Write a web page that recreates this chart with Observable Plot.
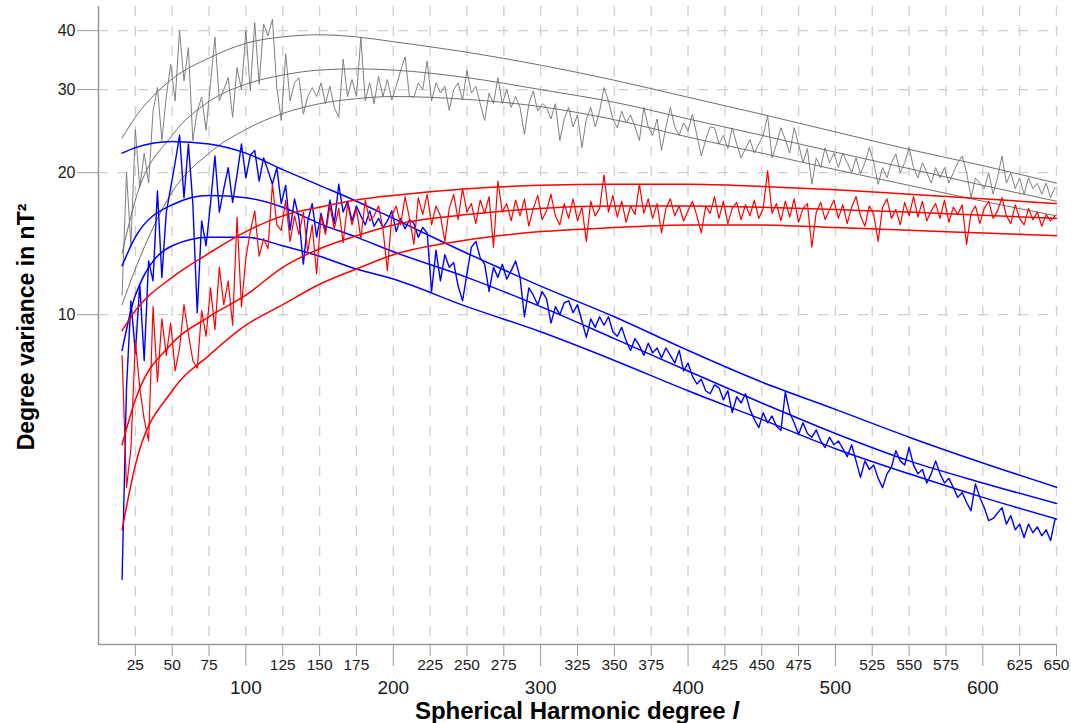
<!DOCTYPE html>
<html>
<head>
<meta charset="utf-8">
<script src="https://cdn.jsdelivr.net/npm/d3@7"></script>
<script src="https://cdn.jsdelivr.net/npm/@observablehq/plot@0.6"></script>
<style>
  html, body { margin: 0; padding: 0; background: #fff; }
  #chart { width: 1071px; height: 723px; }
</style>
</head>
<body>
<div id="chart"></div>
<script>
// ---------- data ----------
// spherical harmonic degrees of the observed (noisy) spectra: 16, 19, ..., 649
const degreeStart = 16, degreeStep = 3;

const grayObserved = [
  11, 20, 14, 24.7, 18.6, 22, 19, 27, 30.3, 23.4,
  29, 33.9, 28.4, 40, 31.3, 36.8, 23.4, 27, 28.9, 24.6,
  31, 38.7, 28.4, 30, 31.8, 26.2, 33.4, 30, 40, 29.8,
  41.6, 30.8, 41.3, 39, 42.3, 30.3, 25.8, 35.7, 28.4, 31,
  31.8, 26.6, 29, 30.3, 29, 31, 28, 30.5, 27.5, 26.2,
  34.8, 29, 31.5, 29, 38.7, 28.4, 31, 28, 32, 29,
  31.5, 28.5, 30.5, 32.9, 35.2, 29, 28.9, 31, 30, 34.5,
  28.4, 31, 29.5, 30.5, 27.1, 30, 31, 28.5, 32.9, 29.5,
  30.5, 28, 25.8, 29.5, 28, 31.8, 28, 30, 27.5, 29,
  27.5, 24.1, 28, 29.8, 27, 28, 27.5, 26, 28, 23.4,
  26, 27.5, 25, 26.5, 22.6, 26, 27.5, 25, 27, 30.3,
  28.4, 26, 24.9, 27, 25.5, 26.5, 25, 23.4, 27.5, 25,
  24, 26, 22.3, 25, 27.5, 25, 24, 25.5, 24.5, 26.6,
  24, 21.7, 23.5, 25, 24.9, 23, 24, 22.5, 24.9, 23,
  21.5, 22.5, 23.5, 22, 23, 24, 26.4, 21.5, 23, 24.9,
  23.5, 22, 24.9, 23, 21, 22.5, 18.9, 21.5, 20.5, 22.6,
  21, 22, 20.5, 22, 21, 20, 21.5, 19.9, 21, 22.6,
  21, 18.9, 20.5, 19.5, 21, 21.9, 20, 21, 22.6, 20.5,
  19.5, 21, 20, 19, 20.5, 19.5, 20.5, 19, 20, 21,
  21.7, 20, 17.7, 19.5, 19, 18.5, 20, 18, 19.5, 21.7,
  19, 20, 18.5, 19.5, 18, 19.5, 18.5, 19, 18, 19,
  17.7, 18.6
];

const redObserved = [
  8.2, 4.3, 5.2, 8.8, 7.0, 6.0, 5.4, 10.4, 7.2, 9.8,
  8.2, 9.6, 7.6, 8.5, 10.5, 9.1, 8.0, 7.7, 10.2, 9.0,
  11.4, 9.3, 12.6, 10.5, 11.8, 9.5, 16.1, 10.4, 13.2, 15.0,
  16.6, 13.3, 14.5, 13.8, 18.9, 15.5, 15.1, 17.5, 14.3, 16.2,
  14.8, 16.5, 13.6, 15.5, 12.2, 16.2, 14.8, 17.0, 15.2, 16.8,
  14.2, 17.2, 15.5, 16.8, 14.5, 17.5, 15.8, 16.2, 17.0, 15.2,
  12.4, 16.2, 17.0, 15.5, 17.8, 16.0, 14.1, 17.7, 16.3, 18.0,
  15.5, 17.0, 16.2, 14.3, 16.8, 18.0, 15.9, 18.5, 16.5, 17.2,
  15.6, 17.5, 16.4, 17.8, 13.9, 19.2, 16.5, 17.2, 15.8, 17.5,
  16.2, 17.6, 15.4, 16.8, 17.9, 15.9, 16.6, 18.0, 16.2, 15.5,
  17.2, 16.0, 17.6, 15.8, 16.9, 14.3, 17.4, 16.2, 16.8, 19.8,
  16.5, 17.9, 16.1, 17.4, 15.7, 17.0, 16.3, 18.9, 16.4, 17.6,
  16.0, 17.2, 14.9, 16.8, 17.6, 16.2, 17.0, 15.8, 16.6, 17.4,
  16.2, 14.9, 17.0, 16.4, 17.8, 16.0, 17.4, 15.6, 16.8, 17.3,
  15.9, 17.1, 16.2, 17.5, 16.0, 16.8, 20.2, 16.4, 17.2, 15.8,
  17.4, 16.1, 17.6, 15.7, 16.8, 17.2, 13.9, 16.5, 17.3, 15.9,
  16.7, 17.5, 16.0, 17.1, 15.6, 16.9, 17.8, 16.2, 15.4, 17.0,
  16.3, 14.3, 16.9, 17.6, 16.0, 16.7, 15.5, 17.3, 16.2, 17.8,
  16.1, 17.4, 15.8, 16.6, 17.2, 16.0, 17.5, 15.7, 16.9, 16.3,
  17.1, 14.1, 16.4, 17.0, 15.6, 16.8, 17.4, 16.0, 16.6, 17.7,
  16.2, 15.6, 17.1, 16.0, 15.5, 16.8, 15.9, 16.5, 15.4, 16.3,
  15.8, 16.2
];

const blueObserved = [
  2.75, 7.0, 10.7, 8.3, 11.6, 8.0, 13.0, 11.8, 18.3, 12.0,
  16.5, 18.6, 21.0, 24.0, 17.7, 23.0, 17.2, 10.1, 15.8, 14.0,
  17.2, 21.7, 16.5, 18.5, 20.5, 17.3, 19.8, 23.0, 19.5, 21.8,
  22.3, 19.2, 21.5, 20.2, 18.9, 20.5, 17.2, 18.8, 15.1, 17.6,
  16.0, 12.8, 15.8, 17.2, 14.6, 16.4, 15.0, 17.5, 15.6, 18.9,
  16.5, 17.4, 15.8, 17.0, 16.2, 15.5, 16.6, 15.4, 16.0, 15.3,
  15.8, 16.6, 15.0, 16.0, 15.2, 15.9, 15.6, 14.6, 15.3, 14.9,
  11.2, 13.7, 11.8, 13.4, 12.6, 12.9, 11.5, 10.7, 12.2, 13.9,
  14.3, 13.2, 12.8, 11.2, 12.6, 12.0, 12.8, 11.9, 12.4, 13.0,
  12.0, 9.9, 11.4, 11.0, 10.5, 11.2, 10.8, 9.6, 10.4, 10.0,
  10.6, 10.7, 10.1, 10.5, 9.7, 8.95, 9.8, 9.4, 9.9, 9.5,
  9.9, 9.2, 9.0, 9.4, 8.8, 8.4, 8.9, 8.6, 8.2, 8.7,
  8.3, 8.5, 8.1, 8.5, 8.2, 7.9, 8.4, 7.6, 7.9, 7.4,
  7.13, 7.3, 6.9, 6.8, 7.1, 7.0, 6.6, 6.9, 6.2, 6.7,
  6.5, 6.8, 6.3, 6.0, 5.76, 6.2, 5.9, 6.1, 5.8, 5.68,
  6.85, 6.2, 5.9, 5.57, 5.9, 5.6, 5.5, 5.7, 5.4, 5.23,
  5.5, 5.3, 5.4, 5.2, 5.0, 5.3, 4.9, 4.52, 4.9, 4.7,
  4.8, 4.5, 4.3, 4.6, 4.75, 5.15, 4.9, 4.8, 5.23, 4.8,
  4.6, 4.7, 4.4, 4.6, 4.9, 4.6, 4.4, 4.5, 4.3, 4.1,
  4.2, 4.0, 3.84, 4.38, 4.1, 3.9, 3.66, 3.7, 3.8, 3.9,
  3.6, 3.75, 3.5, 3.6, 3.37, 3.6, 3.45, 3.55, 3.4, 3.5,
  3.32, 3.69
];

// model curves, sampled at these degrees
const modelDegrees = [16, 25, 50, 75, 100, 125, 150, 175, 200, 250, 300, 350, 400, 450, 500, 550, 600, 650];
const grayUpper  = [23.7, 26.2, 31.6, 35.0, 37.6, 38.8, 39.2, 38.8, 37.9, 36.0, 33.8, 31.4, 28.9, 26.6, 24.4, 22.4, 20.7, 19.0];
const grayMiddle = [13.5, 17.5, 24.0, 28.3, 30.8, 32.2, 33.0, 33.2, 33.0, 31.8, 30.0, 28.2, 26.0, 24.0, 22.1, 20.4, 18.8, 17.4];
const grayLower  = [10.5, 12.5, 18.2, 22.0, 24.7, 26.7, 28.0, 28.7, 29.0, 28.6, 27.6, 25.9, 23.8, 22.0, 20.3, 18.8, 17.4, 16.2];
const blueUpper  = [22.0, 22.6, 23.3, 23.0, 22.0, 20.3, 18.8, 17.4, 16.0, 13.5, 11.5, 9.9, 8.4, 7.2, 6.3, 5.5, 4.85, 4.31];
const blueMiddle = [12.7, 14.6, 17.1, 17.9, 17.7, 16.9, 15.6, 14.6, 13.6, 12.0, 10.4, 8.9, 7.6, 6.5, 5.6, 4.9, 4.4, 3.98];
const blueLower  = [8.4, 11.0, 14.0, 14.6, 14.6, 14.0, 13.3, 12.5, 11.9, 10.4, 9.2, 8.0, 6.9, 6.0, 5.2, 4.6, 4.1, 3.69];
const redUpper   = [9.25, 10.2, 12.0, 13.5, 15.0, 16.2, 16.9, 17.5, 17.9, 18.5, 18.8, 18.9, 18.9, 18.7, 18.4, 18.0, 17.6, 17.2];
const redMiddle  = [5.3, 6.6, 8.7, 9.9, 11.0, 12.6, 13.8, 14.7, 15.5, 16.3, 16.8, 17.0, 17.0, 16.9, 16.7, 16.5, 16.25, 16.0];
const redLower   = [3.5, 4.8, 6.9, 8.2, 9.5, 10.5, 11.6, 12.5, 13.4, 14.4, 15.0, 15.3, 15.5, 15.5, 15.3, 15.1, 14.9, 14.7];

// axis ticks
const xMinorTicks = [25, 50, 75, 125, 150, 175, 225, 250, 275, 325, 350, 375, 425, 450, 475, 525, 550, 575, 625, 650];
const xMajorTicks = [100, 200, 300, 400, 500, 600];
const yTicks = [10, 20, 30, 40];

// ---------- build rows ----------
const observed = (vals) => vals.map((v, i) => ({l: degreeStart + degreeStep * i, v}));
const model = (vals) => vals.map((v, i) => ({l: modelDegrees[i], v}));

const COLORS = {gray: "#808080", grayModel: "#6e6e6e", blue: "#0000ff", red: "#ff0000"};
const smooth = {x: "l", y: "v", curve: "monotone-x"};

const chart = Plot.plot({
  width: 1071,
  height: 723,
  marginLeft: 98,
  marginRight: 15,
  marginTop: 6,
  marginBottom: 79,
  x: {domain: [0, 650]},
  y: {type: "log", domain: [2, 45]},
  style: {fontFamily: "'Liberation Sans', Arial, sans-serif", background: "#fff", color: "#1a1a1a"},
  marks: [
    Plot.gridX(xMinorTicks.concat(xMajorTicks), {stroke: "#cfcfcf", strokeOpacity: 1, strokeWidth: 1.3, strokeDasharray: "10,10"}),
    Plot.gridY(yTicks, {stroke: "#cfcfcf", strokeOpacity: 1, strokeWidth: 1.3, strokeDasharray: "10,10"}),
    Plot.ruleX([0], {stroke: "#9a9a9a", strokeWidth: 1.5}),
    Plot.ruleY([2], {stroke: "#9a9a9a", strokeWidth: 1.5}),
    Plot.axisY(yTicks, {tickSize: 21, tickPadding: 2, fontSize: 16, stroke: "#9a9a9a", tickFormat: d => String(d), label: null}),
    Plot.axisX(xMinorTicks, {tickSize: 12, tickPadding: 2, fontSize: 15.5, stroke: "#9a9a9a", tickFormat: d => String(d), label: null}),
    Plot.axisX(xMajorTicks, {tickSize: 22, tickPadding: 14, fontSize: 19, stroke: "#9a9a9a", tickFormat: d => String(d), label: null}),

    // gray: observed + models
    Plot.line(observed(grayObserved), {x: "l", y: "v", stroke: COLORS.gray, strokeWidth: 1}),
    Plot.line(model(grayUpper), {...smooth, stroke: COLORS.grayModel, strokeWidth: 1}),
    Plot.line(model(grayMiddle), {...smooth, stroke: COLORS.grayModel, strokeWidth: 1}),
    Plot.line(model(grayLower), {...smooth, stroke: COLORS.grayModel, strokeWidth: 1}),

    // blue
    Plot.line(observed(blueObserved), {x: "l", y: "v", stroke: COLORS.blue, strokeWidth: 1.4}),
    Plot.line(model(blueUpper), {...smooth, stroke: COLORS.blue, strokeWidth: 1.5}),
    Plot.line(model(blueMiddle), {...smooth, stroke: COLORS.blue, strokeWidth: 1.5}),
    Plot.line(model(blueLower), {...smooth, stroke: COLORS.blue, strokeWidth: 1.5}),

    // red
    Plot.line(observed(redObserved), {x: "l", y: "v", stroke: COLORS.red, strokeWidth: 1.2}),
    Plot.line(model(redUpper), {...smooth, stroke: COLORS.red, strokeWidth: 1.5}),
    Plot.line(model(redMiddle), {...smooth, stroke: COLORS.red, strokeWidth: 1.5}),
    Plot.line(model(redLower), {...smooth, stroke: COLORS.red, strokeWidth: 1.5})
  ]
});

document.getElementById("chart").appendChild(chart);

// axis titles
const svg = d3.select(chart);
const xt = svg.append("text")
  .attr("x", 577).attr("y", 719)
  .attr("text-anchor", "middle")
  .attr("font-size", 24).attr("font-weight", "bold")
  .attr("fill", "#000")
  .attr("font-family", "'Liberation Sans', Arial, sans-serif");
xt.append("tspan").text("Spherical Harmonic degree ");
xt.append("tspan").attr("font-style", "italic").text("l");

svg.append("text")
  .attr("transform", "translate(34,327) rotate(-90)")
  .attr("text-anchor", "middle")
  .attr("font-size", 23).attr("font-weight", "bold")
  .attr("fill", "#000")
  .attr("font-family", "'Liberation Sans', Arial, sans-serif")
  .text("Degree variance in nT²");
</script>
</body>
</html>
